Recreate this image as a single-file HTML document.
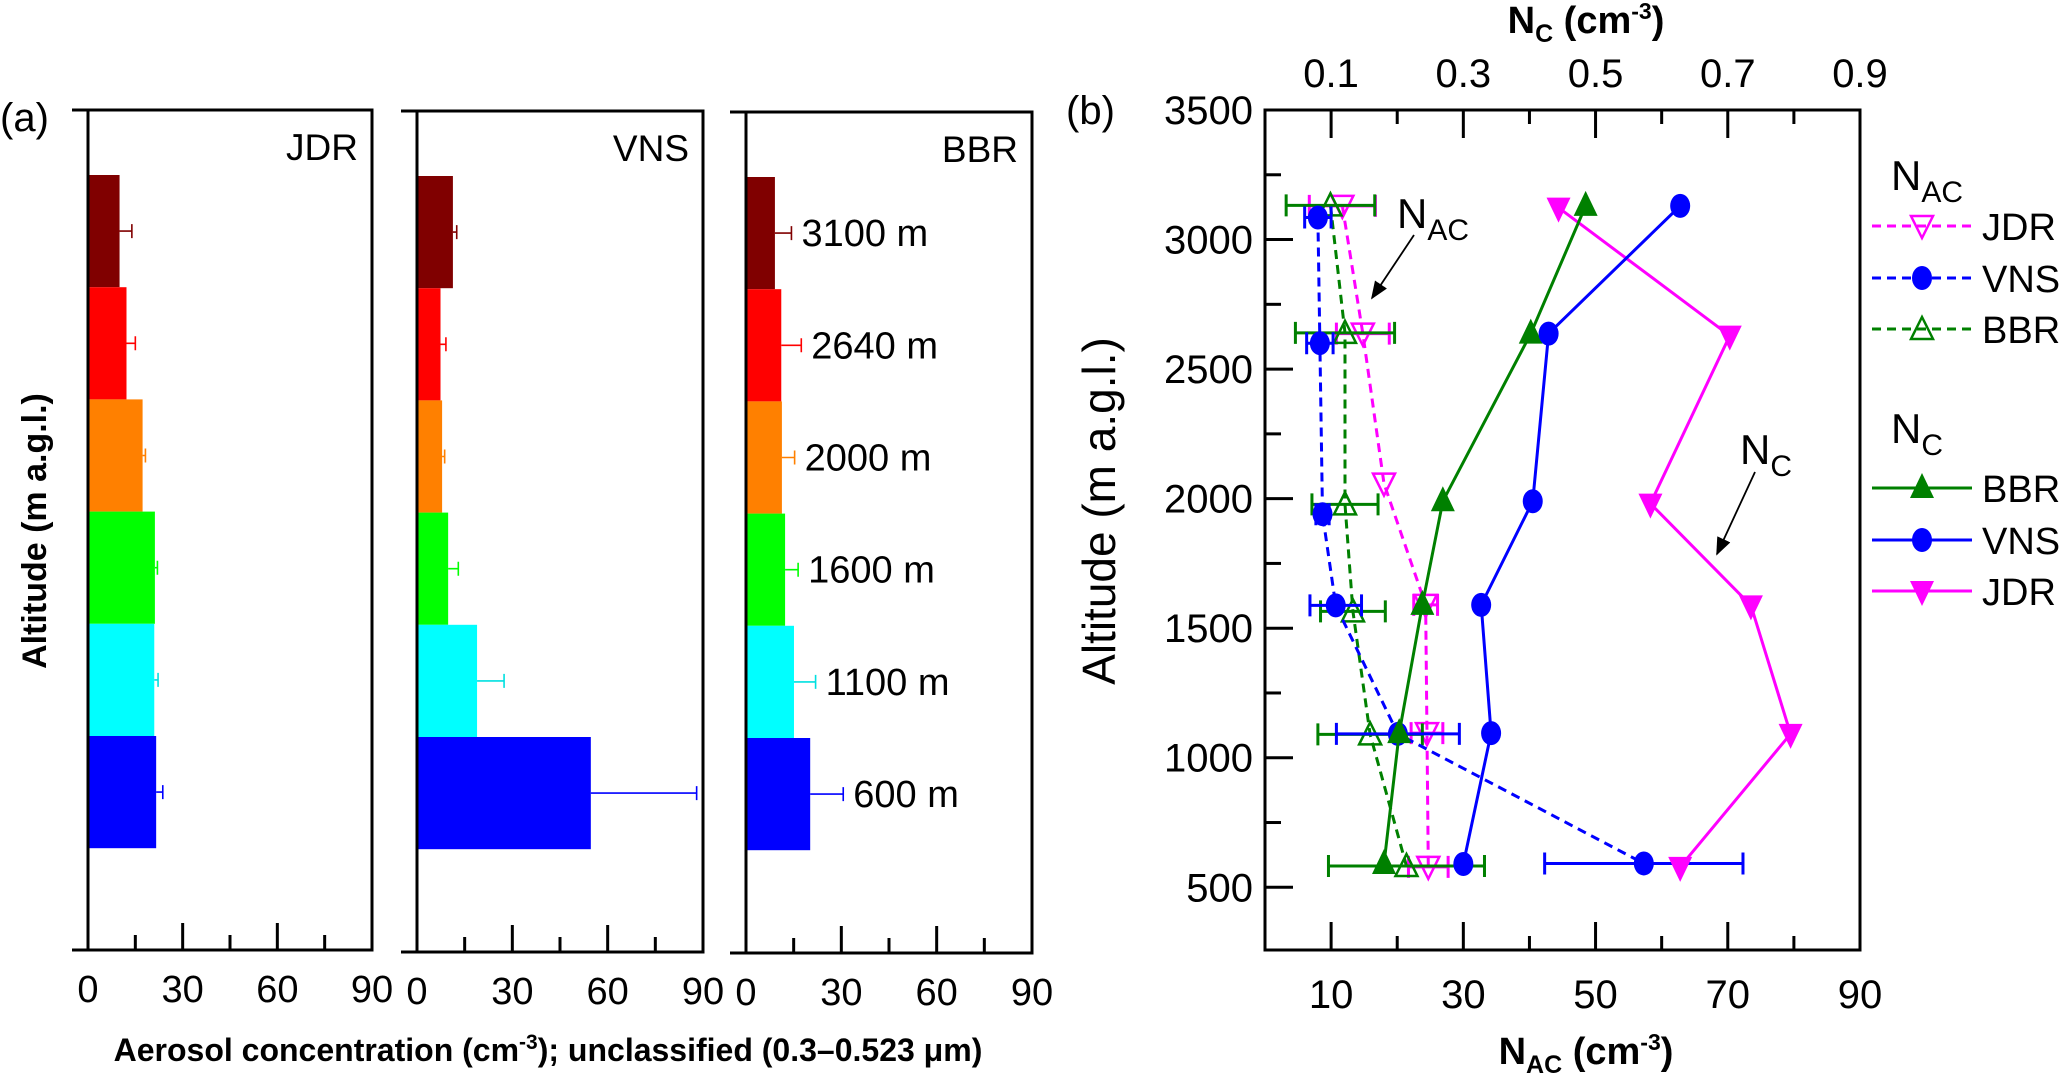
<!DOCTYPE html>
<html><head><meta charset="utf-8"><style>
html,body{margin:0;padding:0;background:#fff;}
svg{display:block;font-family:"Liberation Sans",Arial,sans-serif;}
</style></head><body>
<svg id="fig" width="2067" height="1075" viewBox="0 0 2067 1075" xmlns="http://www.w3.org/2000/svg">
<g id="pa"></g>
<g id="pb"></g>
</svg>
<script>
// ---------- Panel (a) data ----------
const altLabels = ["3100 m","2640 m","2000 m","1600 m","1100 m","600 m"];
const barColors = ["#800000","#ff0000","#ff8000","#00ff00","#00ffff","#0000ff"];
const sites = ["JDR","VNS","BBR"];
const jdrVals = [10,12.2,17.3,21.2,21,21.6];
const jdrErr  = [3.9,2.8,0.9,0.8,1.2,2.1];
const vnsVals = [11.3,7.4,7.9,9.8,18.9,54.7];
const vnsErr  = [1.2,1.7,0.8,3.2,8.5,33.3];
const bbrVals = [9.1,11.1,11.3,12.3,15.1,20.2];
const bbrErr  = [5.2,6.3,4.0,4.1,6.8,10.4];
const aTicks = [0,30,60,90];
const aMinor = [15,45,75];

// ---------- Panel (b) data ----------
const bAlt = [3130,2637,1990,1590,1095,590];
const ncBBR = [0.485,0.402,0.269,0.238,0.203,0.180];
const ncVNS = [0.628,0.429,0.405,0.327,0.342,0.300];
const ncJDR = [0.444,0.703,0.583,0.735,0.795,0.628];
const ncJDRAlt = [3123,2629,1981,1588,1092,579];
const nacJDR = [11.7,14.8,18.0,24.3,24.5,24.7];
const nacJDRAlt = [3130,2637,2058,1590,1095,579];
const nacJDRErr = [5,4,0,1.8,2.4,3];
const nacVNS = [8.0,8.3,8.7,10.7,20.1,57.3];
const nacVNSAlt = [3085,2600,1940,1588,1092,592];
const nacVNSErr = [2,2,1,3.9,9.3,15];
const nacBBR = [9.9,12.1,12.1,13.3,15.9,21.4];
const nacBBRAlt = [3132,2640,1978,1565,1090,582];
const nacBBRErr = [6.7,7.5,5,4.9,7.9,11.8];
const yTicks = [500,1000,1500,2000,2500,3000,3500];
const xBotTicks = [10,30,50,70,90];
const xTopTicks = [0.1,0.3,0.5,0.7,0.9];

const NS="http://www.w3.org/2000/svg";
function mk(parent,tag,attrs,text){const e=document.createElementNS(NS,tag);for(const k in attrs)e.setAttribute(k,attrs[k]);if(text!==undefined)e.textContent=text;parent.appendChild(e);return e;}

// ----- Panel a -----
const pa=document.getElementById('pa');
const panels=[{l:88,r:372,t:110,b:950,v:jdrVals,e:jdrErr,o:0},{l:417,r:703,t:111,b:952,v:vnsVals,e:vnsErr,o:1},{l:746,r:1032,t:112,b:953,v:bbrVals,e:bbrErr,o:2}];
const barTop0=175, band=112.2;
panels.forEach((p,pi)=>{
  const g=mk(pa,'g',{});
  
  
  const xs=v=>p.l+(v/90)*(p.r-p.l);
  p.v.forEach((v,i)=>{
    const y=barTop0+p.o+i*band;
    const r=mk(g,'rect',{x:p.l,y:y,width:xs(v)-p.l,height:band,fill:barColors[i]});
    
    
    const cy=y+band/2, x1=xs(v), x2=xs(v+p.e[i]);
    const eb=mk(g,'path',{d:`M${x1},${cy}H${x2}M${x2},${cy-7}V${cy+7}`,stroke:barColors[i]==="#00ffff"?"#00e0e0":barColors[i],'stroke-width':1.6,fill:'none'});
    
    
    if(pi===2){
      const t=mk(g,'text',{x:x2+10,y:cy+13,'font-size':38,fill:'#000'},altLabels[i]);
      
      
    }
  });
  mk(g,'rect',{x:p.l,y:p.t,width:p.r-p.l,height:p.b-p.t,fill:'none',stroke:'#000','stroke-width':3});
  mk(g,'path',{d:`M${p.l-16},${p.t}H${p.l}M${p.l-16},${p.b}H${p.l}`,stroke:'#000','stroke-width':3});
  aTicks.forEach(t=>{const x=xs(t);mk(g,'line',{x1:x,x2:x,y1:p.b,y2:p.b-27,stroke:'#000','stroke-width':3});
    const tl=mk(g,'text',{x:x,y:p.b+52,'font-size':38,'text-anchor':'middle'},String(t));
    
    });
  aMinor.forEach(t=>{const x=xs(t);mk(g,'line',{x1:x,x2:x,y1:p.b,y2:p.b-15,stroke:'#000','stroke-width':3});});
  const st=mk(g,'text',{x:p.r-14,y:p.t+50,'font-size':37,'text-anchor':'end'},sites[pi]);
  
  
});
let t;
t=mk(pa,'text',{x:0,y:131,'font-size':40},'(a)');
t=mk(pa,'text',{x:548,y:1061,'font-size':32,'font-weight':'bold','text-anchor':'middle'});

t.innerHTML='Aerosol concentration (cm<tspan dy="-12" font-size="21">-3</tspan><tspan dy="12">); unclassified (0.3–0.523 μm)</tspan>';
t=mk(pa,'text',{x:0,y:0,'font-size':34,'font-weight':'bold','text-anchor':'middle',transform:'translate(46,531) rotate(-90)'},'Altitude (m a.g.l.)');


// ----- Panel b -----
const pb=document.getElementById('pb');
const L=1265,R=1860,T=110,B=950;
const xB=v=>L+(v/90)*(R-L);
const xT=v=>xB(v*100);
const yA=a=>T+(3500-a)*(B-T)/(3500-258);
const frame=mk(pb,'rect',{x:L,y:T,width:R-L,height:B-T,fill:'none',stroke:'#000','stroke-width':3});

for(let a=250;a<=3500;a+=250){if(yA(a)>B)continue;const y=yA(a);const maj=a%500===0;mk(pb,'line',{x1:L,x2:L+(maj?28:16),y1:y,y2:y,stroke:'#000','stroke-width':3});}
for(let v=10;v<90;v+=10){const x=xB(v);const maj=(v/10)%2===1;const len=maj?28:14;
  mk(pb,'line',{x1:x,x2:x,y1:B,y2:B-len,stroke:'#000','stroke-width':3});
  mk(pb,'line',{x1:x,x2:x,y1:T,y2:T+len,stroke:'#000','stroke-width':3});}
yTicks.forEach(a=>{const tl=mk(pb,'text',{x:L-12,y:yA(a)+14,'font-size':40,'text-anchor':'end'},String(a));
  });
xBotTicks.forEach(v=>{const tl=mk(pb,'text',{x:xB(v),y:1008,'font-size':40,'text-anchor':'middle'},String(v));
  });
xTopTicks.forEach(v=>{const tl=mk(pb,'text',{x:xT(v),y:87,'font-size':40,'text-anchor':'middle'},String(v));
  });
t=mk(pb,'text',{x:1586,y:33,'font-size':38,'font-weight':'bold','text-anchor':'middle'});
t.innerHTML='N<tspan font-size="25" dy="9">C</tspan><tspan dy="-9"> (cm</tspan><tspan dy="-14" font-size="23">-3</tspan><tspan dy="14">)</tspan>';

t=mk(pb,'text',{x:1586,y:1064,'font-size':38,'font-weight':'bold','text-anchor':'middle'});
t.innerHTML='N<tspan font-size="25" dy="9">AC</tspan><tspan dy="-9"> (cm</tspan><tspan dy="-14" font-size="23">-3</tspan><tspan dy="14">)</tspan>';

t=mk(pb,'text',{x:0,y:0,'font-size':46,'text-anchor':'middle',transform:'translate(1115,511) rotate(-90)'},'Altitude (m a.g.l.)');

t=mk(pb,'text',{x:1066,y:124,'font-size':40},'(b)');

function marker(g,type,x,y,color){
  const s=12;
  if(type==='circle')return mk(g,'ellipse',{cx:x,cy:y,rx:10,ry:12,fill:color});
  if(type==='up')return mk(g,'path',{d:`M${x},${y-s-3}L${x+s},${y+s-2}L${x-s},${y+s-2}Z`,fill:color});
  if(type==='down')return mk(g,'path',{d:`M${x},${y+s+3}L${x+s},${y-s+2}L${x-s},${y-s+2}Z`,fill:color});
  if(type==='upo')return mk(g,'path',{d:`M${x},${y-s}L${x+s-1},${y+s-2}L${x-s+1},${y+s-2}Z`,fill:'none',stroke:color,'stroke-width':2.5});
  if(type==='downo')return mk(g,'path',{d:`M${x},${y+s}L${x+s-1},${y-s+2}L${x-s+1},${y-s+2}Z`,fill:'none',stroke:color,'stroke-width':2.5});
}
function series(name,xs,alts,err,xf,color,type,dashed){
  const g=mk(pb,'g',{});
  
  
  if(err){xs.forEach((v,i)=>{if(!err[i])return;const y=yA(alts[i]);const a=xf(v-err[i]),b=xf(v+err[i]);
    mk(g,'path',{d:`M${a},${y}H${b}M${a},${y-11}V${y+11}M${b},${y-11}V${y+11}`,stroke:color,'stroke-width':3,fill:'none'});});}
  const d=xs.map((v,i)=>(i?'L':'M')+xf(v)+','+yA(alts[i])).join('');
  mk(g,'path',{d:d,stroke:color,'stroke-width':3,fill:'none','stroke-dasharray':dashed?'9,6':'none'});
  xs.forEach((v,i)=>{const m=marker(g,type,xf(v),yA(alts[i]),color);
    });
}
series('series-nac-jdr',nacJDR,nacJDRAlt,nacJDRErr,xB,'#ff00ff','downo',true);
series('series-nac-bbr',nacBBR,nacBBRAlt,nacBBRErr,xB,'#008000','upo',true);
series('series-nac-vns',nacVNS,nacVNSAlt,nacVNSErr,xB,'#0000ff','circle',true);
series('series-nc-jdr',ncJDR,ncJDRAlt,null,xT,'#ff00ff','down',false);
series('series-nc-bbr',ncBBR,bAlt,null,xT,'#008000','up',false);
series('series-nc-vns',ncVNS,bAlt,null,xT,'#0000ff','circle',false);

mk(pb,'defs',{}).innerHTML='<marker id="ah" markerWidth="10" markerHeight="10" refX="9" refY="5" orient="auto"><path d="M0,1L10,5L0,9Z" fill="#000"/></marker>';
t=mk(pb,'text',{x:1397,y:228,'font-size':42});t.innerHTML='N<tspan font-size="30" dy="12">AC</tspan>';

mk(pb,'line',{x1:1414,y1:235,x2:1372,y2:298,stroke:'#000','stroke-width':1.8,'marker-end':'url(#ah)'});
t=mk(pb,'text',{x:1740,y:464,'font-size':42});t.innerHTML='N<tspan font-size="30" dy="12">C</tspan>';

mk(pb,'line',{x1:1755,y1:472,x2:1717,y2:554,stroke:'#000','stroke-width':1.8,'marker-end':'url(#ah)'});

const lg=mk(pb,'g',{});

t=mk(lg,'text',{x:1891,y:190,'font-size':42});t.innerHTML='N<tspan font-size="30" dy="12">AC</tspan>';
t=mk(lg,'text',{x:1891,y:443,'font-size':42});t.innerHTML='N<tspan font-size="30" dy="12">C</tspan>';
const legItems=[["JDR",226,'#ff00ff','downo',true],["VNS",278,'#0000ff','circle',true],["BBR",329,'#008000','upo',true],
["BBR",488,'#008000','up',false],["VNS",540,'#0000ff','circle',false],["JDR",591,'#ff00ff','down',false]];
legItems.forEach(it=>{
  const e=mk(lg,'g',{});
  
  
  mk(e,'line',{x1:1872,x2:1972,y1:it[1],y2:it[1],stroke:it[2],'stroke-width':3,'stroke-dasharray':it[4]?'9,6':'none'});
  marker(e,it[3],1922,it[1],it[2]);
  mk(e,'text',{x:1982,y:it[1]+14,'font-size':38},it[0]);
});
</script>
</body></html>
